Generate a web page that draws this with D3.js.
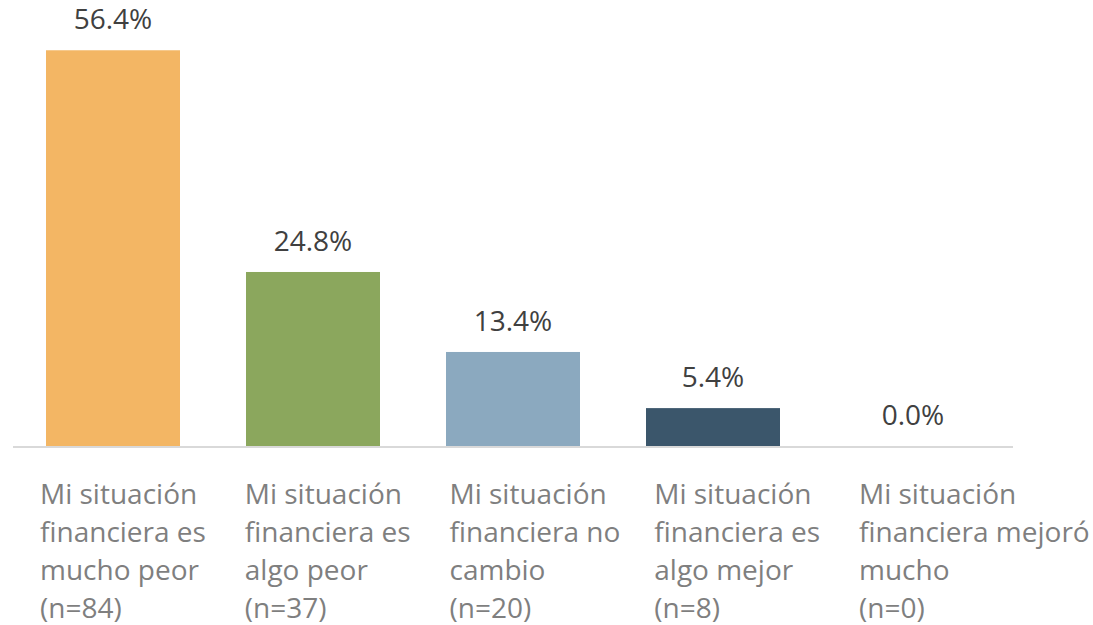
<!DOCTYPE html>
<html>
<head>
<meta charset="utf-8">
<script src="https://cdn.jsdelivr.net/npm/d3@7"></script>
<style>
  body { margin: 0; background: #fff; }
  svg { display: block; font-family: "Open Sans", sans-serif; }
</style>
</head>
<body>
<script>
// data
var categories = ["mucho peor", "algo peor", "no cambio", "algo mejor", "mejoró mucho"];
var values = [56.4, 24.8, 13.4, 5.4, 0.0];
var labelLines = [
  ["Mi situación", "financiera es", "mucho peor", "(n=84)"],
  ["Mi situación", "financiera es", "algo peor", "(n=37)"],
  ["Mi situación", "financiera no", "cambio", "(n=20)"],
  ["Mi situación", "financiera es", "algo mejor", "(n=8)"],
  ["Mi situación", "financiera mejoró", "mucho", "(n=0)"]
];
var colors = ["#f3b664", "#8ba75d", "#8ba9bf", "#3b566b", "#a5a5a5"];

var svg = d3.select("body").append("svg").attr("width", 1093).attr("height", 625);

// scales
var x = d3.scaleBand().domain(categories).range([13, 1013]).paddingInner(0.33).paddingOuter(0.165);
var y = d3.scaleLinear().domain([0, 60]).range([446, 25]);
var labelX = d3.scalePoint().domain(categories).range([40, 859]);

// bars
svg.selectAll("rect.bar")
  .data(values)
  .enter().append("rect")
  .attr("class", "bar")
  .attr("x", function(d, i) { return x(categories[i]); })
  .attr("width", x.bandwidth())
  .attr("y", function(d) { return y(d); })
  .attr("height", function(d) { return y(0) - y(d); })
  .attr("fill", function(d, i) { return colors[i]; });

// baseline
svg.append("line")
  .attr("x1", 13).attr("x2", 1013)
  .attr("y1", y(0) + 1).attr("y2", y(0) + 1)
  .attr("stroke", "#d9d9d9")
  .attr("stroke-width", 2);

// value labels
svg.selectAll("text.val")
  .data(values)
  .enter().append("text")
  .attr("class", "val")
  .attr("x", function(d, i) { return x(categories[i]) + x.bandwidth() / 2; })
  .attr("y", function(d) { return y(d) - 21; })
  .attr("text-anchor", "middle")
  .attr("fill", "#404040")
  .style("font-size", "28px")
  .text(function(d) { return d.toFixed(1) + "%"; });

// category labels
var cat = svg.selectAll("text.cat")
  .data(labelLines)
  .enter().append("text")
  .attr("class", "cat")
  .attr("fill", "#7f7f7f")
  .style("font-size", "28px");

cat.selectAll("tspan")
  .data(function(d, i) { return d.map(function(t) { return { t: t, i: i }; }); })
  .enter().append("tspan")
  .attr("x", function(d) { return labelX(categories[d.i]); })
  .attr("y", function(d, j) { return 504 + j * 38; })
  .text(function(d) { return d.t; });
</script>
</body>
</html>
